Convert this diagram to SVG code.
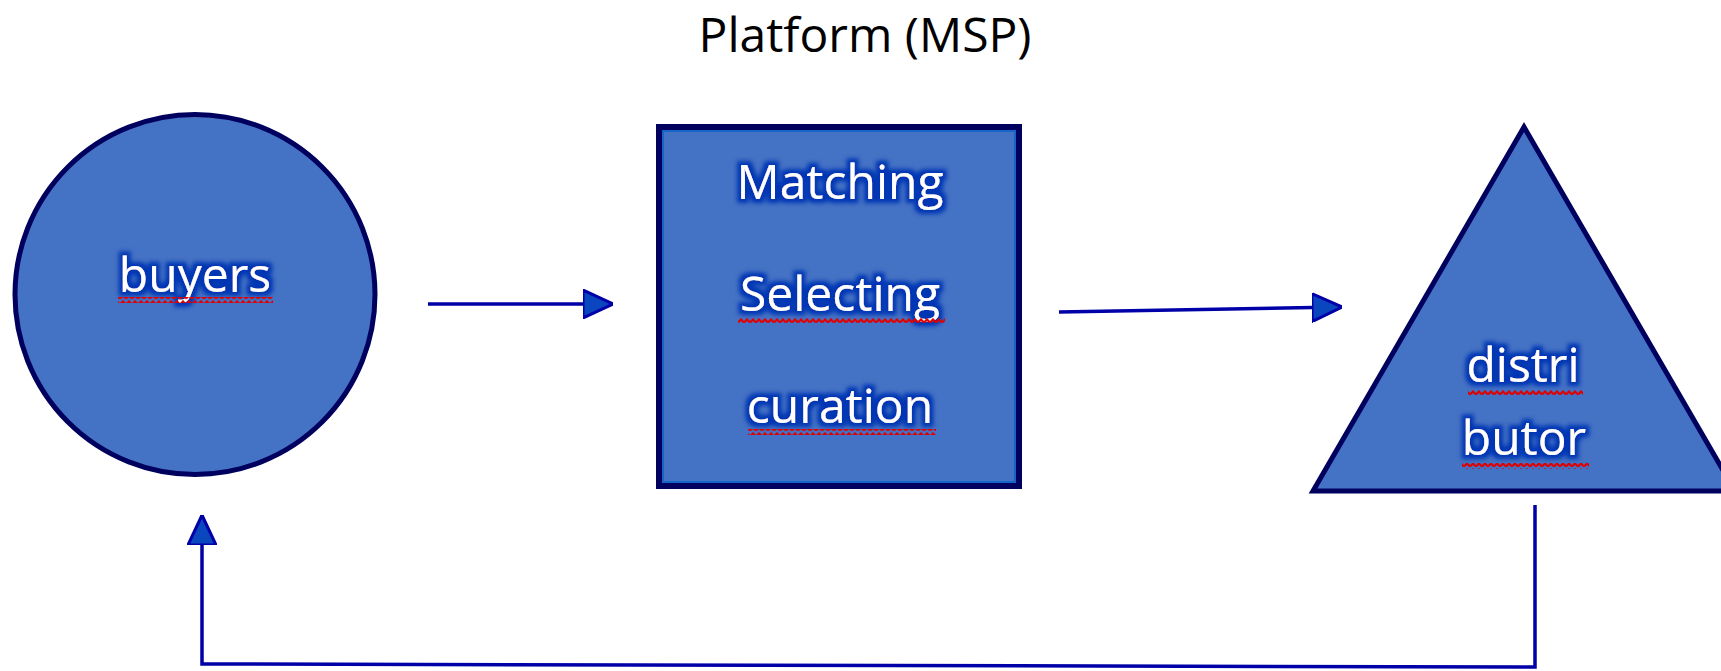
<svg xmlns="http://www.w3.org/2000/svg" width="1721" height="671" viewBox="0 0 1721 671">
  <style>
    .shape { fill: #4472C4; stroke: #00005e; }
    .label { font-family: "Open Sans", "Noto Sans", sans-serif; font-size: 48px; fill: #ffffff; text-anchor: middle; }
    .title { font-family: "Open Sans", "Noto Sans", sans-serif; font-size: 48px; fill: #000000; text-anchor: middle; }
    .conn { fill: none; stroke: #0000a8; stroke-width: 3.5; }
    .squiggle { fill: url(#wave); }
  </style>
  <defs>
    <filter id="halo" x="-15%" y="-30%" width="130%" height="160%">
      <feMorphology in="SourceAlpha" operator="dilate" radius="4" result="d"/>
      <feGaussianBlur in="d" stdDeviation="2" result="b"/>
      <feFlood flood-color="#0036b4"/>
      <feComposite in2="b" operator="in" result="h"/>
      <feMerge><feMergeNode in="h"/><feMergeNode in="SourceGraphic"/></feMerge>
    </filter>
    <pattern id="wave" patternUnits="userSpaceOnUse" width="6" height="6">
      <path d="M0,4.5 L3,1.5 L6,4.5" fill="none" stroke="#e00000" stroke-width="2.2"/>
    </pattern>
    <marker id="arrow" viewBox="0 0 30 30" refX="30" refY="15" markerWidth="30" markerHeight="30" markerUnits="userSpaceOnUse" orient="auto">
      <path d="M0,1 L30,15 L0,29 Z" fill="#0a46be" stroke="#0000a8" stroke-width="3"/>
    </marker>
  </defs>

  <g id="title">
    <text class="title" x="865" y="52">Platform (MSP)</text>
  </g>

  <g id="connectors">
    <line class="conn" x1="428" y1="304" x2="613" y2="304" marker-end="url(#arrow)"/>
    <line class="conn" x1="1059" y1="312" x2="1342" y2="307" marker-end="url(#arrow)"/>
    <polyline class="conn" points="1535,505 1535,667 202,664 202,515" marker-end="url(#arrow)"/>
  </g>

  <g id="buyers">
    <circle class="shape" cx="195" cy="294.5" r="180" stroke-width="5"/>
    <text class="label" x="195" y="292" filter="url(#halo)">buyers</text>
    <rect class="squiggle" x="118" y="297" width="155" height="6"/>
  </g>

  <g id="platform">
    <rect class="shape" x="659" y="127" width="360" height="359" stroke-width="6"/>
    <rect x="663" y="131" width="352" height="351" fill="none" stroke="#1565c8" stroke-width="2"/>
    <text class="label" x="840" y="199" filter="url(#halo)">Matching</text>
    <text class="label" x="840" y="311" filter="url(#halo)">Selecting</text>
    <rect class="squiggle" x="738" y="317" width="207" height="6"/>
    <text class="label" x="840" y="423" filter="url(#halo)">curation</text>
    <rect class="squiggle" x="748" y="429" width="188" height="6"/>
  </g>

  <g id="distributor">
    <polygon class="shape" points="1524,127 1313,491 1735,491" stroke-width="5" stroke-linejoin="miter"/>
    <text class="label" x="1523" y="382" filter="url(#halo)">distri</text>
    <rect class="squiggle" x="1468" y="390" width="115" height="6"/>
    <text class="label" x="1524" y="455" filter="url(#halo)">butor</text>
    <rect class="squiggle" x="1462" y="463" width="127" height="6"/>
  </g>
</svg>
